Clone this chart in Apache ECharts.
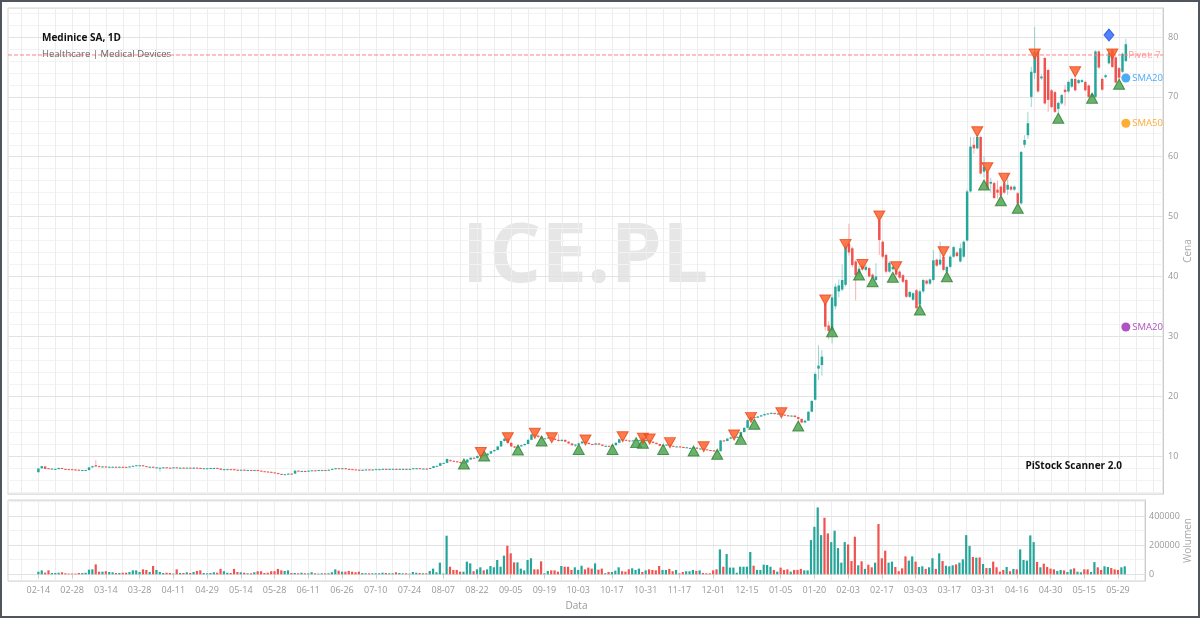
<!DOCTYPE html>
<html>
<head>
<meta charset="utf-8">
<title>Medinice SA, 1D</title>
<script src="https://cdn.jsdelivr.net/npm/echarts@6/dist/echarts.min.js"></script>
<style>
  html, body { margin: 0; padding: 0; background: #fff; }
  #chart { width: 1200px; height: 618px; box-sizing: border-box; border: 2px solid #51565c; }
</style>
</head>
<body>
<div id="chart"></div>
<script>
// tick labels on the date axis, one every 10 sessions
const tickLabels = ['02-14','02-28','03-14','03-28','04-11','04-29','05-14','05-28','06-11','06-26',
  '07-10','07-24','08-07','08-22','09-05','09-19','10-03','10-17','10-31','11-17',
  '12-01','12-15','01-05','01-20','02-03','02-17','03-03','03-17','03-31','04-16',
  '04-30','05-15','05-29'];

const open = [
  7.30,7.95,8.25,7.95,7.80,7.75,7.80,8.00,7.85,7.80, 7.80,7.75,7.70,7.60,7.60,7.65,8.10,8.45,8.30,8.15,
  8.25,8.15,8.15,8.20,8.15,8.20,8.18,8.15,8.25,8.35, 8.40,8.45,8.30,8.15,8.20,8.00,8.00,8.05,8.10,8.05,
  8.05,8.10,8.00,8.05,7.95,8.05,7.95,8.05,8.00,7.90, 7.93,7.95,7.95,8.00,7.90,7.65,7.75,7.80,7.80,7.70,
  7.65,7.70,7.63,7.65,7.60,7.65,7.55,7.45,7.40,7.35, 7.25,7.15,7.00,6.90,6.90,7.05,7.05,7.55,7.45,7.50,
  7.45,7.55,7.60,7.55,7.63,7.65,7.60,7.70,7.85,7.95, 7.90,7.95,7.85,7.80,7.75,7.70,7.65,7.70,7.75,7.70,
  7.75,7.78,7.80,7.85,7.80,7.83,7.85,7.80,7.83,7.85, 7.80,7.85,7.90,7.95,7.88,7.90,7.85,8.00,8.30,8.35,
  8.80,8.85,9.30,9.20,9.10,9.00,8.80,8.90,9.40,9.70, 9.65,10.00,10.20,10.10,10.40,10.80,11.00,11.60,12.50,12.90,
  12.20,11.60,11.40,11.60,11.80,12.00,12.70,13.60,13.40,13.20, 12.90,12.95,13.10,12.90,12.70,12.50,12.70,12.40,12.10,11.80,
  11.90,12.10,12.40,12.20,12.00,11.90,12.10,11.90,11.68,11.70, 11.60,11.80,12.20,12.80,12.70,12.60,12.50,12.60,12.55,12.65,
  12.60,12.65,12.40,12.20,12.00,11.70,11.80,11.90,11.70,11.55, 11.60,11.50,11.40,11.25,11.35,11.40,11.20,11.25,11.10,11.00,
  10.95,10.85,10.80,12.60,12.50,12.90,13.10,13.18,13.20,14.00, 14.70,16.00,16.50,16.40,16.60,16.80,17.00,17.10,17.20,17.00,
  17.10,16.90,16.80,16.70,16.75,16.50,16.20,15.60,15.90,17.40, 19.40,24.60,25.20,35.50,31.80,31.00,35.00,37.50,37.80,38.60,
  45.50,44.70,42.50,40.50,41.80,41.10,41.40,40.30,39.40,49.40, 45.80,43.60,40.80,41.20,41.00,40.80,40.20,39.40,36.60,36.10,
  37.70,35.30,37.50,39.30,38.80,39.40,42.80,42.00,43.30,40.80, 41.60,43.30,44.00,42.50,43.30,46.00,54.20,62.00,61.40,63.30,
  57.50,57.50,55.50,55.60,54.50,55.00,55.60,54.50,55.00,54.50, 53.90,52.20,62.00,63.60,70.00,74.00,77.60,73.10,76.50,74.50,
  71.10,70.80,68.00,68.90,71.20,70.90,71.70,73.00,72.30,72.50, 72.50,71.90,70.00,70.00,77.60,73.00,73.30,75.60,77.80,76.60,
  74.80,74.20,76.00
];
const close = [
  7.90,8.30,7.85,7.85,7.90,7.85,8.00,7.85,7.80,7.75, 7.70,7.65,7.60,7.65,7.65,8.10,8.30,8.25,8.20,8.25,
  8.15,8.20,8.20,8.15,8.20,8.15,8.15,8.25,8.35,8.45, 8.45,8.30,8.20,8.20,8.05,8.10,8.05,8.10,8.05,8.00,
  8.10,8.00,8.05,8.00,8.05,8.00,8.05,7.95,7.90,7.95, 7.95,8.00,8.00,7.90,7.70,7.80,7.80,7.75,7.65,7.65,
  7.70,7.65,7.65,7.60,7.65,7.55,7.45,7.40,7.35,7.25, 7.15,7.00,6.90,6.95,7.05,7.00,7.55,7.45,7.50,7.45,
  7.55,7.60,7.55,7.65,7.65,7.60,7.70,7.85,7.95,7.90, 7.95,7.85,7.80,7.75,7.70,7.65,7.70,7.75,7.70,7.75,
  7.80,7.80,7.85,7.80,7.85,7.85,7.80,7.85,7.85,7.80, 7.85,7.95,7.95,7.90,7.90,7.85,8.00,8.30,8.35,8.80,
  8.85,9.50,9.20,9.10,9.05,8.80,8.90,9.40,9.70,9.65, 10.00,10.20,10.10,10.40,10.80,11.00,11.60,12.50,12.90,12.20,
  11.60,11.40,11.60,11.80,12.00,12.70,13.60,13.40,13.20,12.90, 12.95,13.10,12.90,12.70,12.50,12.70,12.40,12.10,11.80,11.90,
  12.10,12.40,12.20,12.00,11.90,12.10,11.90,11.70,11.70,11.60, 11.80,12.20,12.80,12.70,12.60,12.50,12.60,12.70,12.65,12.60,
  12.65,12.40,12.20,12.00,11.70,11.80,11.90,11.70,11.60,11.60, 11.50,11.40,11.45,11.35,11.40,11.20,11.25,11.10,11.00,10.95,
  10.80,10.75,12.60,12.50,12.90,13.10,13.20,13.20,14.00,14.70, 16.00,16.50,16.40,16.60,16.80,17.00,17.10,17.20,17.00,17.10,
  16.90,16.80,16.70,16.75,16.50,16.20,15.60,15.90,17.40,19.20, 23.70,25.10,26.60,31.60,30.90,36.50,38.30,38.50,39.40,45.00,
  44.00,41.90,40.20,41.30,41.20,41.60,40.00,39.80,40.00,46.10, 43.30,40.80,42.30,41.60,40.30,39.80,39.10,36.60,37.40,37.20,
  34.70,37.50,39.40,38.80,39.50,42.70,41.80,42.80,41.10,41.60, 43.30,44.90,43.40,44.70,45.80,54.20,61.70,61.40,63.30,57.20,
  58.30,54.70,55.80,53.10,54.00,53.50,54.00,55.30,54.50,55.00, 52.20,60.80,62.80,65.60,74.20,77.50,70.90,73.40,68.90,69.50,
  68.30,67.50,69.00,70.30,70.80,72.50,73.00,71.10,72.80,72.80, 71.10,70.00,70.50,77.60,74.90,71.20,73.60,77.30,75.00,72.40,
  73.20,77.20,78.80
];
const low = [
  7.20,7.90,7.80,7.80,7.75,7.70,7.80,7.80,7.75,7.70, 7.65,7.60,7.55,7.55,7.55,7.60,8.05,8.15,8.15,8.10,
  8.10,8.10,8.10,8.10,8.10,8.10,8.10,8.10,8.20,8.30, 8.35,8.25,8.15,8.10,8.00,7.95,7.40,8.00,8.00,7.95,
  8.00,7.95,7.95,7.95,7.90,7.95,7.90,7.90,7.85,7.85, 7.90,7.90,7.90,7.85,7.65,7.60,7.70,7.70,7.60,7.60,
  7.60,7.60,7.60,7.55,7.55,7.50,7.40,7.35,7.30,7.20, 7.10,6.95,6.85,6.85,6.85,6.95,7.00,7.40,7.40,7.30,
  7.40,7.50,7.50,7.50,7.60,7.55,7.55,7.65,7.80,7.85, 7.85,7.80,7.75,7.70,7.65,7.60,7.60,7.65,7.65,7.65,
  7.70,7.75,7.75,7.75,7.75,7.80,7.75,7.75,7.80,7.75, 7.75,7.80,7.85,7.85,7.85,7.80,7.80,7.95,8.25,8.30,
  8.75,8.80,9.10,9.00,8.95,8.75,8.75,8.85,9.35,9.55, 9.60,9.90,10.00,10.05,10.35,10.75,10.95,11.50,12.40,12.10,
  11.50,11.30,11.35,11.55,11.75,11.95,12.65,13.30,13.00,12.80, 12.85,12.90,12.80,12.60,12.40,12.45,12.30,12.00,11.70,11.50,
  11.85,12.05,12.10,11.90,11.80,11.85,11.80,11.60,11.60,11.50, 11.55,11.75,12.15,12.60,12.50,12.40,12.45,12.55,12.45,12.50,
  12.50,12.30,12.10,11.90,11.60,11.65,11.75,11.65,11.55,11.45, 11.45,11.35,11.35,11.15,11.30,11.15,11.10,11.00,10.95,10.85,
  10.70,10.60,10.75,12.40,12.45,12.85,13.00,13.10,13.15,13.95, 14.65,15.90,16.30,16.35,16.55,16.75,16.95,17.05,16.95,16.90,
  16.80,16.70,16.60,16.60,16.45,16.00,15.50,15.50,15.85,17.30, 19.30,22.70,23.40,31.00,29.50,28.80,34.50,36.50,37.50,38.30,
  43.50,41.50,36.00,40.00,41.00,40.90,39.80,39.60,39.20,43.60, 43.00,40.50,40.60,41.00,40.10,39.60,38.90,36.40,36.40,35.90,
  34.50,35.00,37.20,38.60,38.60,39.20,41.60,41.80,40.90,40.50, 41.40,43.10,43.20,42.30,43.10,45.80,54.00,60.50,61.20,57.00,
  56.50,54.50,54.00,52.90,53.00,53.30,53.80,53.60,54.30,54.30, 52.00,52.00,61.50,63.00,68.30,73.00,70.70,72.80,68.70,67.50,
  68.10,67.30,67.20,68.70,68.50,70.70,71.50,70.90,72.10,72.30, 70.90,69.80,69.80,69.80,74.70,71.00,73.10,75.40,74.80,72.20,
  72.80,74.00,75.80
];
const high = [
  8.00,8.35,8.30,8.00,7.95,7.90,8.05,8.05,7.90,7.85, 7.85,7.80,7.75,7.70,7.70,8.15,8.35,9.30,8.40,8.30,
  8.30,8.25,8.25,8.25,8.25,8.25,8.20,8.30,8.40,8.50, 8.50,8.50,8.35,8.25,8.25,8.15,8.10,8.15,8.15,8.10,
  8.15,8.15,8.10,8.10,8.10,8.10,8.10,8.10,8.05,8.00, 8.00,8.05,8.05,8.05,7.95,7.85,7.85,7.85,7.85,7.75,
  7.75,7.75,7.70,7.70,7.70,7.70,7.60,7.50,7.45,7.40, 7.30,7.20,7.05,7.00,7.10,7.10,7.60,7.60,7.55,7.55,
  7.60,7.65,7.65,7.70,7.70,7.70,7.75,7.90,8.00,8.00, 8.00,8.00,7.90,7.85,7.80,7.75,7.75,7.80,7.80,7.80,
  7.85,7.85,7.90,7.90,7.90,7.90,7.90,7.90,7.90,7.90, 7.90,8.00,8.00,8.00,7.95,7.95,8.05,8.35,8.40,8.90,
  8.90,9.60,9.45,9.25,9.20,9.05,8.95,9.50,9.80,9.80, 10.10,10.30,10.30,10.50,10.90,11.10,11.70,12.60,13.00,13.00,
  12.30,11.70,11.70,11.90,12.10,12.80,13.70,13.70,13.50,13.30, 13.00,13.20,13.15,12.95,13.70,12.80,12.75,12.45,12.15,12.00,
  12.20,12.50,12.45,12.25,12.05,12.20,12.15,11.95,11.75,11.75, 11.85,12.30,12.90,12.85,12.75,12.65,12.70,12.75,12.75,12.70,
  12.75,12.70,12.45,12.25,12.05,11.85,12.00,11.95,11.75,11.65, 11.65,11.55,11.50,11.40,11.45,11.45,11.30,11.30,11.15,11.05,
  11.00,10.90,12.70,12.70,13.00,13.20,13.30,13.30,14.10,14.80, 16.10,16.60,16.60,16.70,16.90,17.10,17.20,17.30,17.25,17.20,
  17.15,16.95,16.85,16.80,16.80,16.55,16.25,16.00,17.50,19.30, 24.00,28.50,27.70,36.30,32.50,37.00,38.80,39.50,42.00,45.50,
  48.80,45.00,42.80,41.80,42.00,41.90,41.60,40.50,42.20,50.00, 46.00,43.80,42.50,41.80,41.20,41.00,40.40,39.60,37.60,37.40,
  37.90,37.80,39.60,39.50,39.70,44.40,43.00,45.80,43.50,41.80, 43.50,45.10,44.20,45.50,46.00,54.50,63.30,63.30,64.00,63.50,
  60.00,57.80,56.50,55.80,56.00,55.20,55.90,57.30,55.20,55.20, 54.10,61.00,63.60,67.50,75.00,81.70,77.80,73.80,76.70,74.70,
  71.30,71.00,69.20,70.50,72.00,72.70,73.20,73.20,73.00,73.00, 72.70,72.10,70.70,77.80,77.80,73.20,73.80,77.50,78.00,76.80,
  75.00,77.40,79.70
];
const volume = [
  18000,27000,11000,27000,9000,9000,11000,14000,7000,5000, 5000,5000,9000,9000,11000,32000,34000,68000,18000,18000,
  21000,16000,14000,9000,9000,11000,11000,16000,27000,27000, 16000,34000,30000,16000,57000,30000,16000,9000,11000,9000,
  5000,34000,9000,9000,14000,9000,16000,23000,27000,9000, 7000,9000,14000,11000,37000,21000,11000,9000,37000,16000,
  14000,11000,7000,7000,14000,21000,21000,9000,11000,21000, 21000,37000,27000,23000,27000,9000,9000,7000,11000,7000,
  7000,14000,7000,5000,7000,7000,7000,14000,34000,25000, 18000,18000,23000,18000,14000,18000,9000,7000,7000,7000,
  7000,7000,11000,9000,7000,7000,14000,9000,7000,7000, 5000,16000,11000,9000,7000,7000,23000,39000,14000,80000,
  5000,265000,52000,30000,30000,18000,18000,87000,75000,21000, 34000,48000,27000,34000,57000,48000,98000,52000,128000,196000,
  144000,82000,82000,39000,27000,98000,110000,34000,34000,89000, 7000,23000,27000,27000,18000,57000,52000,52000,30000,48000,
  30000,59000,34000,46000,39000,75000,32000,39000,7000,16000, 16000,25000,48000,21000,18000,34000,41000,30000,39000,16000,
  27000,34000,30000,27000,57000,30000,30000,37000,21000,30000, 7000,16000,21000,21000,30000,23000,27000,9000,7000,7000,
  27000,34000,171000,52000,139000,46000,46000,11000,52000,52000, 52000,153000,59000,30000,30000,66000,64000,52000,30000,18000,
  46000,30000,34000,18000,30000,30000,37000,27000,27000,235000, 326000,459000,269000,388000,281000,221000,299000,180000,80000,221000,
  205000,91000,258000,62000,89000,37000,66000,48000,80000,345000, 110000,162000,80000,87000,50000,21000,41000,123000,94000,123000,
  87000,50000,55000,37000,48000,110000,37000,144000,91000,59000, 55000,62000,68000,80000,103000,269000,194000,119000,114000,116000,
  71000,43000,43000,87000,48000,18000,30000,50000,21000,37000, 34000,171000,98000,94000,267000,221000,85000,48000,73000,50000,
  39000,34000,23000,30000,27000,16000,34000,41000,18000,14000, 34000,34000,16000,84000,48000,30000,55000,50000,43000,34000,
  30000,48000,55000
];

// scanner signals: session index and price level of the marker
const buyIdx   = [126,132,142,149,160,170,177,179,185,194,201,208,212,225,235,243,247,253,261,269,280,285,290,302,312,320];
const buyPrice = [8.66,10.0,11.0,12.5,11.1,11.1,12.23,12.12,11.1,10.83,10.28,12.78,15.3,15.0,30.77,40.24,39.12,39.85,34.4,39.96,55.28,52.65,51.38,66.42,69.76,72.1];
const sellIdx   = [131,139,147,152,162,173,179,181,187,197,206,211,220,233,239,244,249,254,268,278,281,286,295,307,318];
const sellPrice = [10.6,13.06,13.79,13.06,12.67,13.23,12.95,12.84,12.23,11.56,13.51,16.45,17.23,36.06,45.36,42.0,50.1,41.63,44.13,64.18,58.17,56.4,77.16,74.2,77.16];
const alertIdx = [317];
const alertPrice = [80.33];

const smaNames = ['SMA20', 'SMA50', 'SMA200'];
const smaLast = [73.15, 65.6, 31.55];
const pivotLevel = 77;

const UP = '#26a69a';
const DOWN = '#ef5350';
const SMA_COLORS = ['#2196f3', '#ff9800', '#9c27b0'];
const PIVOT_COLOR = '#ff7f7f';
const PAD_LEFT = 9;
const N = close.length;
const MAIN_SLOTS = 343;
const VOL_SLOTS = 338;

function makeCategories(total) {
  const cats = [];
  for (let p = 0; p < total; p++) {
    const i = p - PAD_LEFT;
    cats.push(i >= 0 && i < N && i % 10 === 0 ? tickLabels[i / 10] : '');
  }
  return cats;
}

const isTickDay = (p) => {
  const i = p - PAD_LEFT;
  return i >= 0 && i < N && i % 10 === 0;
};
const isGridDay = (p) => p % 5 === 4;

function renderCandle(params, api) {
  const p = api.value(0);
  const o = api.value(1), c = api.value(2), l = api.value(3), h = api.value(4);
  const top = api.coord([p, Math.max(o, c)]);
  const bot = api.coord([p, Math.min(o, c)]);
  const lo = api.coord([p, l]);
  const hi = api.coord([p, h]);
  const color = c >= o ? UP : DOWN;
  const x = top[0];
  return {
    type: 'group',
    children: [
      { type: 'line', shape: { x1: x, y1: hi[1], x2: x, y2: lo[1] }, style: { stroke: color, lineWidth: 1, opacity: 0.45 } },
      { type: 'rect', shape: { x: x - 1.25, y: top[1], width: 2.5, height: Math.max(1, bot[1] - top[1]) }, style: { fill: color } }
    ]
  };
}

const candleData = close.map((c, i) => [i + PAD_LEFT, open[i], c, low[i], high[i]]);
const volumeData = volume.map((v, i) => ({
  value: [i + PAD_LEFT, v],
  itemStyle: { color: close[i] >= open[i] ? UP : DOWN }
}));
const lastP = N - 1 + PAD_LEFT;

const axisText = { color: '#999', fontSize: 9 };
const chart = echarts.init(document.getElementById('chart'));

chart.setOption({
  animation: false,
  backgroundColor: '#fff',
  textStyle: { fontFamily: '"Open Sans", sans-serif' },
  grid: [
    { left: 6, right: 35, top: 6, height: 486, show: true, borderColor: '#d4d4d4', borderWidth: 1, outerBoundsMode: 'none' },
    { left: 6, right: 53, top: 498, height: 81, show: true, borderColor: '#d4d4d4', borderWidth: 1, outerBoundsMode: 'none' }
  ],
  xAxis: [
    {
      type: 'category', gridIndex: 0, data: makeCategories(MAIN_SLOTS), boundaryGap: false,
      axisLine: { show: true, lineStyle: { color: '#d4d4d4' } },
      axisTick: { show: false }, axisLabel: { show: false },
      splitLine: { show: true, interval: isGridDay, lineStyle: { color: '#ededed' } }
    },
    {
      type: 'category', gridIndex: 1, data: makeCategories(VOL_SLOTS), boundaryGap: false,
      name: 'Data', nameLocation: 'middle', nameGap: 20, nameMoveOverlap: false,
      nameTextStyle: { color: '#999', fontSize: 10 },
      axisLine: { show: true, lineStyle: { color: '#ccc' } },
      axisTick: { show: true, interval: isTickDay, length: 4, lineStyle: { color: '#ccc' } },
      axisLabel: { interval: isTickDay, margin: 5, ...axisText },
      splitLine: { show: true, interval: isGridDay, lineStyle: { color: '#ededed' } }
    }
  ],
  yAxis: [
    {
      type: 'value', gridIndex: 0, position: 'right', min: 3.65, max: 84.85, splitNumber: 8, z: 1,
      name: 'Cena', nameLocation: 'middle', nameGap: 20, nameMoveOverlap: false,
      nameTextStyle: { color: '#aaa', fontSize: 10 },
      axisLine: { show: true, lineStyle: { color: '#ccc' } },
      axisTick: { show: false },
      axisLabel: { margin: 5, ...axisText, formatter: (v) => (v % 10 === 0 ? String(v) : '') },
      splitLine: { show: true, lineStyle: { color: '#e2e2e2' } }
    },
    {
      type: 'value', gridIndex: 0, position: 'right', min: 3.65, max: 84.85, splitNumber: 40, z: 0,
      axisLine: { show: false }, axisTick: { show: false }, axisLabel: { show: false },
      splitLine: { show: true, lineStyle: { color: '#f3f3f3' } }
    },
    {
      type: 'value', gridIndex: 1, position: 'right', min: -46000, max: 510000, splitNumber: 3, z: 1,
      name: 'Wolumen', nameLocation: 'middle', nameGap: 38, nameMoveOverlap: false,
      nameTextStyle: { color: '#aaa', fontSize: 10 },
      axisLine: { show: true, lineStyle: { color: '#ccc' } },
      axisTick: { show: false },
      axisLabel: { margin: 4, ...axisText, formatter: (v) => (v >= 0 && v % 200000 === 0 ? String(v) : '') },
      splitLine: { show: true, lineStyle: { color: '#e2e2e2' } }
    },
    {
      type: 'value', gridIndex: 1, position: 'right', min: -46000, max: 510000, splitNumber: 6, z: 0,
      axisLine: { show: false }, axisTick: { show: false }, axisLabel: { show: false },
      splitLine: { show: true, lineStyle: { color: '#f1f1f1' } }
    }
  ],
  graphic: [
    {
      type: 'text', x: 583, y: 257, z: 0, silent: true,
      style: { text: 'ICE.PL', fill: '#e6e6e6', font: 'bold 82px "Open Sans", sans-serif', align: 'center', verticalAlign: 'middle' }
    },
    {
      type: 'text', x: 40, y: 36, z: 10,
      style: { text: 'Medinice SA, 1D', fill: '#111', font: 'bold 10px "Open Sans", sans-serif', verticalAlign: 'middle' }
    },
    {
      type: 'text', x: 40, y: 52, z: 10,
      style: { text: 'Healthcare | Medical Devices', fill: '#666', font: '9.5px "Open Sans", sans-serif', verticalAlign: 'middle' }
    },
    {
      type: 'text', x: 1120, y: 464, z: 10,
      style: { text: 'PiStock Scanner 2.0', fill: '#111', font: 'bold 10px "Open Sans", sans-serif', align: 'right', verticalAlign: 'middle' }
    }
  ],
  series: [
    {
      name: 'Kurs', type: 'custom', xAxisIndex: 0, yAxisIndex: 0, z: 2,
      renderItem: renderCandle, data: candleData, encode: { x: 0, y: [1, 2, 3, 4] }, clip: true
    },
    {
      name: 'Pivot', type: 'line', xAxisIndex: 0, yAxisIndex: 0, z: 3,
      symbol: 'none', silent: true,
      lineStyle: { color: PIVOT_COLOR, type: [4, 2], width: 1 },
      itemStyle: { color: PIVOT_COLOR },
      data: [[0, pivotLevel], [MAIN_SLOTS - 1, pivotLevel]]
    },
    {
      name: 'Pivot label', type: 'scatter', xAxisIndex: 0, yAxisIndex: 0, z: 4,
      symbolSize: 1, itemStyle: { color: 'rgba(0,0,0,0)' },
      data: [[lastP, pivotLevel]],
      label: {
        show: true, position: 'right', distance: 2, formatter: 'Pivot: ' + pivotLevel,
        color: PIVOT_COLOR, fontSize: 9.5, width: 36, overflow: 'truncate', ellipsis: ''
      }
    },
    {
      name: 'SMA', type: 'scatter', xAxisIndex: 0, yAxisIndex: 0, z: 4, symbolSize: 9,
      data: smaLast.map((v, k) => ({
        value: [lastP, v],
        itemStyle: { color: SMA_COLORS[k] },
        label: { color: SMA_COLORS[k], formatter: smaNames[k] }
      })),
      label: { show: true, position: 'right', distance: 2, fontSize: 9.5, width: 33, overflow: 'truncate', ellipsis: '' }
    },
    {
      name: 'Kupno', type: 'scatter', xAxisIndex: 0, yAxisIndex: 0, z: 5,
      symbol: 'triangle', symbolSize: [11, 10],
      itemStyle: { color: '#43a047', borderColor: '#2e7d32', borderWidth: 1 },
      data: buyIdx.map((d, k) => [d + PAD_LEFT, buyPrice[k]])
    },
    {
      name: 'Sprzedaz', type: 'scatter', xAxisIndex: 0, yAxisIndex: 0, z: 5,
      symbol: 'triangle', symbolRotate: 180, symbolSize: [11, 10],
      itemStyle: { color: '#ff5722', borderColor: '#e64a19', borderWidth: 1 },
      data: sellIdx.map((d, k) => [d + PAD_LEFT, sellPrice[k]])
    },
    {
      name: 'Alert', type: 'scatter', xAxisIndex: 0, yAxisIndex: 0, z: 5,
      symbol: 'diamond', symbolSize: [10, 12],
      itemStyle: { color: '#2962ff', borderColor: '#1e4fd8', borderWidth: 1 },
      data: alertIdx.map((d, k) => [d + PAD_LEFT, alertPrice[k]])
    },
    {
      name: 'Wolumen', type: 'bar', xAxisIndex: 1, yAxisIndex: 2, barWidth: 2.2,
      data: volumeData
    }
  ]
});
</script>
</body>
</html>
